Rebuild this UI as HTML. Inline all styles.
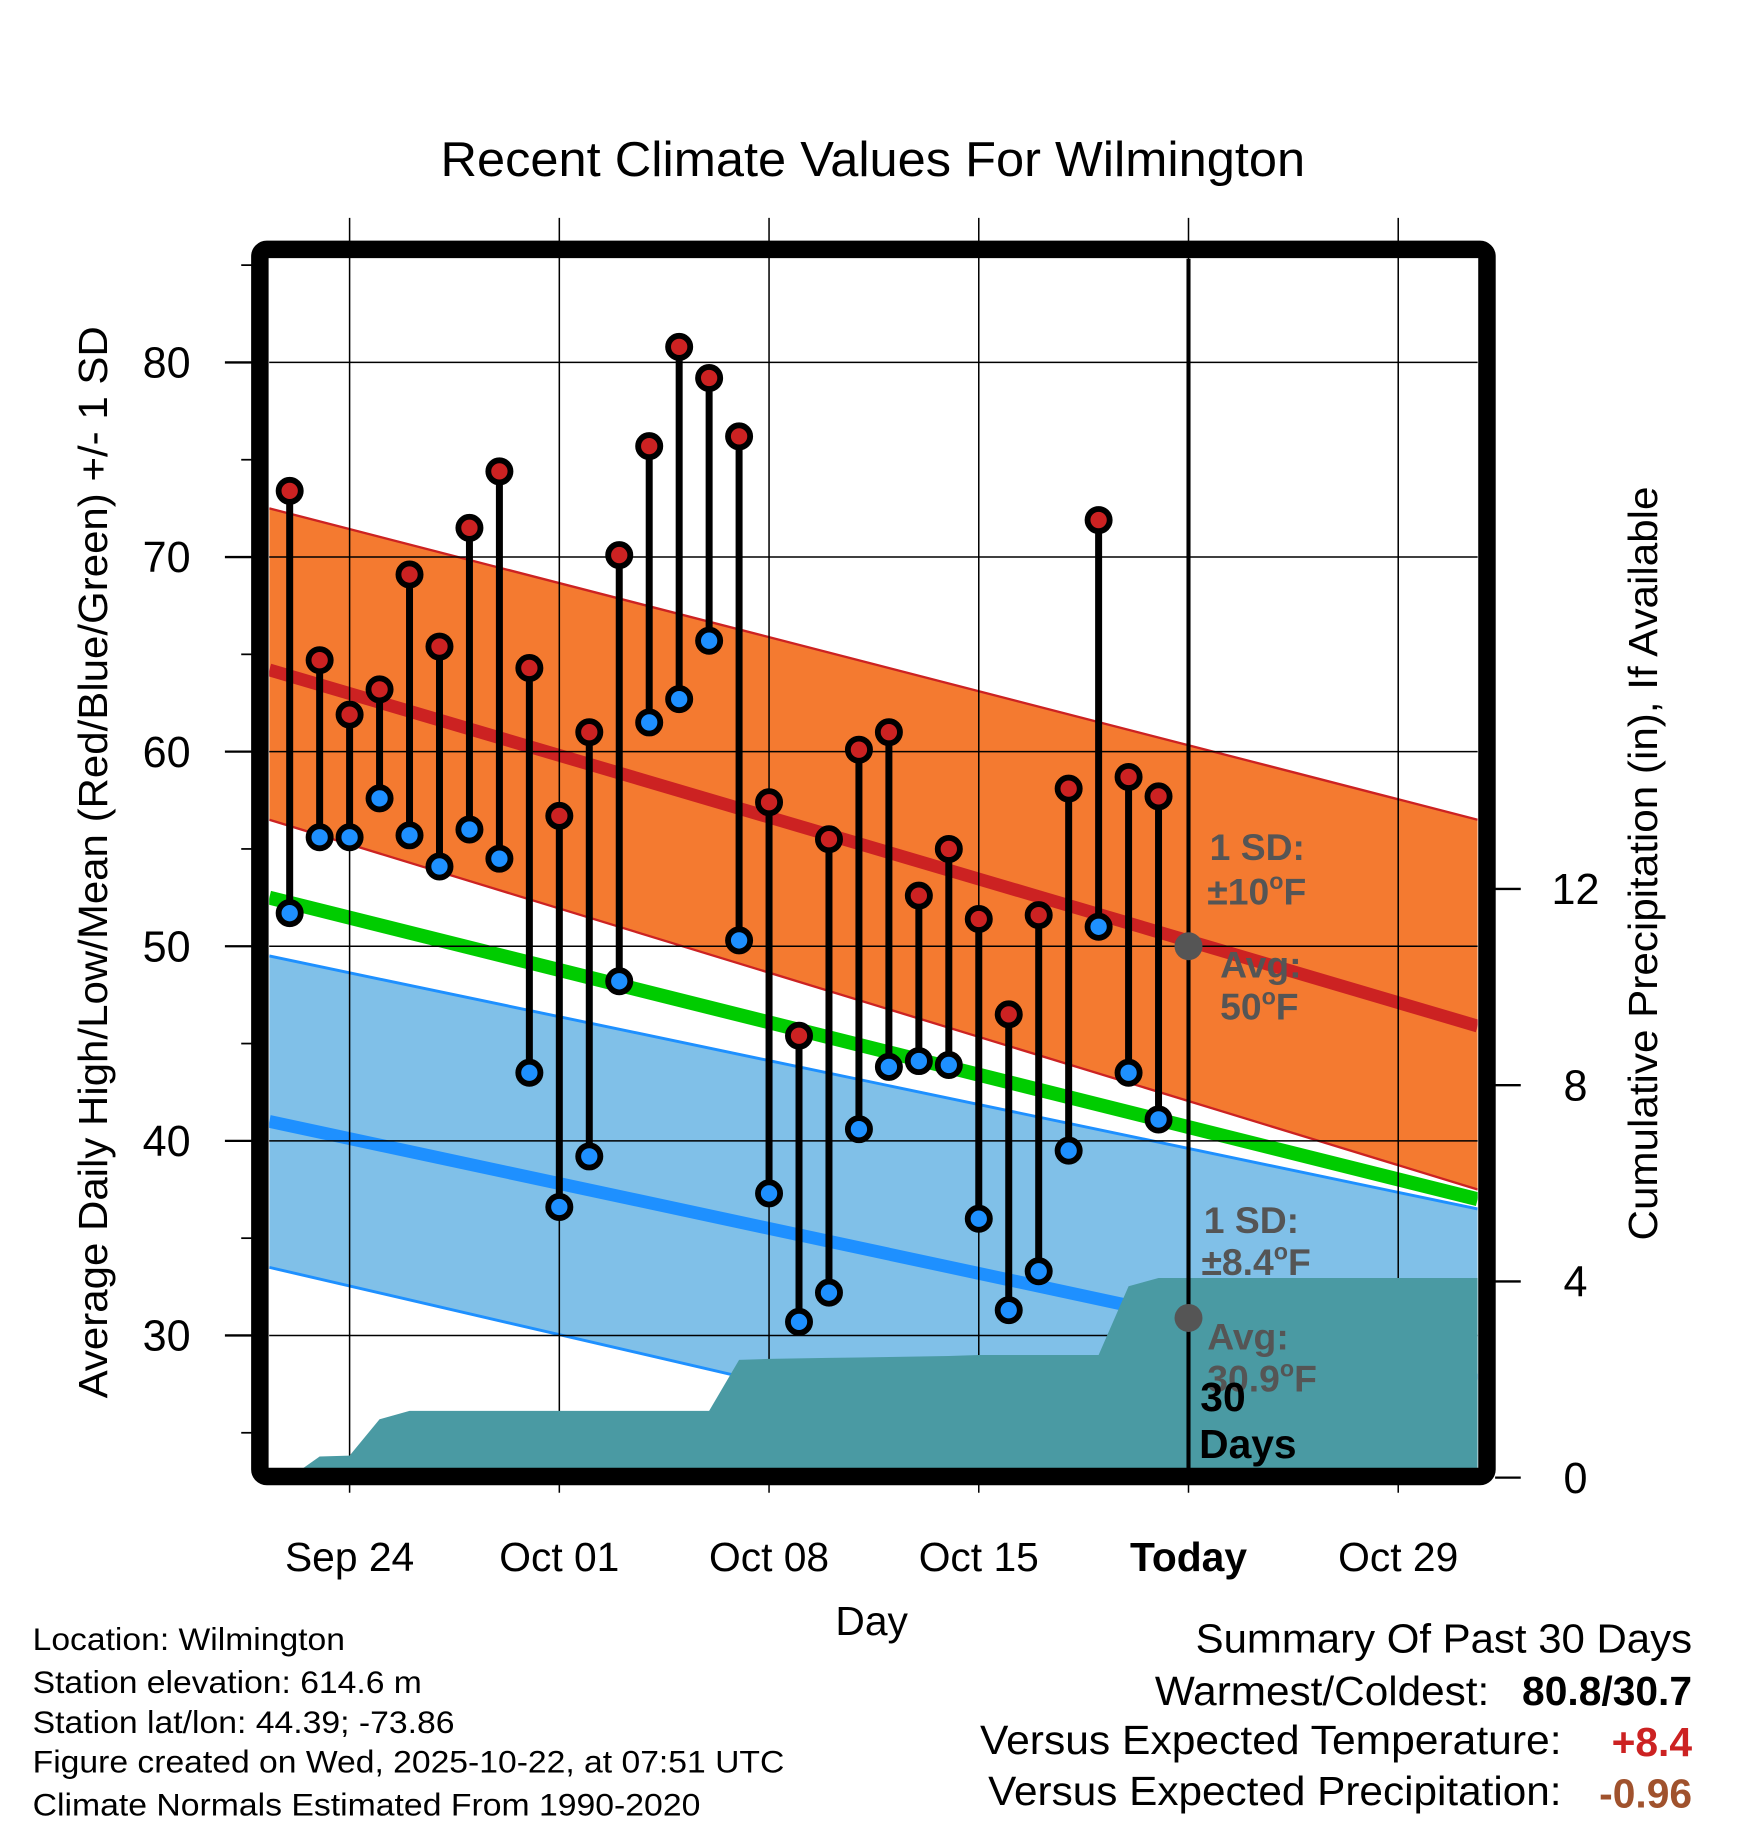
<!DOCTYPE html>
<html><head><meta charset="utf-8"><style>html,body{margin:0;padding:0;background:#fff}svg{display:block}text{font-family:"Liberation Sans",sans-serif}</style></head>
<body>
<svg id="chart" width="1748" height="1828" viewBox="0 0 1500 1568.65" xmlns="http://www.w3.org/2000/svg">
<defs><clipPath id="plotclip"><rect x="231" y="222" width="1037" height="1038"/></clipPath></defs>
<g id="bg" clip-path="url(#plotclip)"></g>
<g id="grid"></g>
<g id="precip" clip-path="url(#plotclip)"></g>
<g id="marks"></g>
<g id="annot"></g>
<rect x="223" y="214" width="1053" height="1053" rx="6" fill="none" stroke="#000" stroke-width="15"/>
<g id="axes"></g>
<text x="749" y="151" font-size="42" text-anchor="middle" textLength="742" lengthAdjust="spacingAndGlyphs">Recent Climate Values For Wilmington</text>
<text x="748" y="1403" font-size="35" text-anchor="middle">Day</text>
<text transform="translate(92,740) rotate(-90)" font-size="35" text-anchor="middle" textLength="920" lengthAdjust="spacingAndGlyphs">Average Daily High/Low/Mean (Red/Blue/Green) +/- 1 SD</text>
<text transform="translate(1422,741) rotate(-90)" font-size="35" text-anchor="middle" textLength="647" lengthAdjust="spacingAndGlyphs">Cumulative Precipitation (in), If Available</text>
<g font-size="27">
<text x="28" y="1416" textLength="268" lengthAdjust="spacingAndGlyphs">Location: Wilmington</text>
<text x="28" y="1453" textLength="334" lengthAdjust="spacingAndGlyphs">Station elevation: 614.6 m</text>
<text x="28" y="1487" textLength="362" lengthAdjust="spacingAndGlyphs">Station lat/lon: 44.39; -73.86</text>
<text x="28" y="1521" textLength="645" lengthAdjust="spacingAndGlyphs">Figure created on Wed, 2025-10-22, at 07:51 UTC</text>
<text x="28" y="1558" textLength="573" lengthAdjust="spacingAndGlyphs">Climate Normals Estimated From 1990-2020</text>
</g>
<g font-size="35">
<text x="1026" y="1418" textLength="426" lengthAdjust="spacingAndGlyphs">Summary Of Past 30 Days</text>
<text x="991" y="1463" textLength="287" lengthAdjust="spacingAndGlyphs">Warmest/Coldest:</text>
<text x="1452" y="1463" text-anchor="end" font-weight="bold">80.8/30.7</text>
<text x="841" y="1505" textLength="499" lengthAdjust="spacingAndGlyphs">Versus Expected Temperature:</text>
<text x="1452" y="1507" text-anchor="end" font-weight="bold" fill="#cc2222">+8.4</text>
<text x="848" y="1549" textLength="492" lengthAdjust="spacingAndGlyphs">Versus Expected Precipitation:</text>
<text x="1452" y="1551" text-anchor="end" font-weight="bold" fill="#a0522d">-0.96</text>
</g>
</svg>
<script>
// Data (day index 0 = Sep 22)
const highs = [73.4,64.7,61.9,63.2,69.1,65.4,71.5,74.4,64.3,56.7,61.0,70.1,75.7,80.8,79.2,76.2,57.4,45.4,55.5,60.1,61.0,52.6,55.0,51.4,46.5,51.6,58.1,71.9,58.7,57.7];
const lows  = [51.7,55.6,55.6,57.6,55.7,54.1,56.0,54.5,43.5,36.6,39.2,48.2,61.5,62.7,65.7,50.3,37.3,30.7,32.2,40.6,43.8,44.1,43.9,36.0,31.3,33.3,39.5,51.0,43.5,41.1];
const precipCum = [0,0.43,0.45,1.19,1.36,1.36,1.36,1.36,1.36,1.36,1.36,1.36,1.36,1.36,1.36,2.4,2.42,2.43,2.44,2.45,2.46,2.47,2.48,2.5,2.5,2.5,2.5,2.5,3.9,4.07];
const normalDays = [-0.68, 39.65];
const normHighUpper = [72.5,56.5];
const normHigh = [64.2,45.9];
const normHighLower = [56.5,37.5];
const normMean = [52.5,37.0];
const normLowUpper = [49.5,36.5];
const normLow = [41.0,27.7];
const normLowLower = [33.5,19.1];
const xTickDays = [2,9,16,23,30,37];
const xTickLabels = ["Sep 24","Oct 01","Oct 08","Oct 15","Today","Oct 29"];
const yTicks = [30,40,50,60,70,80];
const yMinor = [25,35,45,55,65,75,85];
const pTicks = [0,4,8,12];
const todayDay = 30;
const todayHighAvg = 50.0;
const todayLowAvg = 30.9;

const NS="http://www.w3.org/2000/svg";
function xD(d){return 300+(d-2)*25.71;}
function yT(v){return 812-(v-50)*16.7;}
function yP(p){return 1268-p*42.1;}
function mk(tag,attrs,parent){const e=document.createElementNS(NS,tag);for(const k in attrs)e.setAttribute(k,attrs[k]);parent.appendChild(e);return e;}
const bg=document.getElementById('bg'),grid=document.getElementById('grid'),pr=document.getElementById('precip'),marks=document.getElementById('marks'),ax=document.getElementById('axes'),an=document.getElementById('annot');
function band(up,lo,fill,name){
  const pts=[xD(normalDays[0])+','+yT(up[0]),xD(normalDays[1])+','+yT(up[1]),xD(normalDays[1])+','+yT(lo[1]),xD(normalDays[0])+','+yT(lo[0])].join(' ');
  const p=mk('polygon',{points:pts,fill:fill},bg);
  
  
}
function line(arr,color,w,name){
  const l=mk('line',{x1:xD(normalDays[0]),y1:yT(arr[0]),x2:xD(normalDays[1]),y2:yT(arr[1]),stroke:color,'stroke-width':w},bg);
  
  
}
band(normHighUpper,normHighLower,'#f47a30','high-sd-band');
band(normLowUpper,normLowLower,'#80c0e8','low-sd-band');
line(normHighUpper,'#cc2222',2,'high-upper-edge');
line(normHighLower,'#cc2222',2,'high-lower-edge');
line(normLowUpper,'#1e90ff',2.5,'low-upper-edge');
line(normLowLower,'#1e90ff',2.5,'low-lower-edge');
line(normHigh,'#cc2222',11,'normal-high-line');
line(normLow,'#1e90ff',11,'normal-low-line');
line(normMean,'#00cc00',12,'normal-mean-line');
yTicks.forEach(v=>{const g=mk('line',{x1:231,x2:1268,y1:yT(v),y2:yT(v),stroke:'#000','stroke-width':1.3},grid);

});
xTickDays.forEach(d=>{const g=mk('line',{x1:xD(d),x2:xD(d),y1:187,y2:1281,stroke:'#000','stroke-width':1.3},grid);

});
const h=mk('circle',{cx:xD(todayDay),cy:yT(todayHighAvg),r:12,fill:'#555'},an);


const lw=mk('circle',{cx:xD(todayDay),cy:yT(todayLowAvg),r:12,fill:'#555'},an);


let pts=[xD(0)+','+yP(0)];
precipCum.forEach((p,i)=>pts.push(xD(i)+','+yP(p)));
pts.push('1268,'+yP(precipCum[precipCum.length-1]));pts.push('1268,1268');pts.push(xD(0)+',1268');
const pa=mk('polygon',{points:pts.join(' '),fill:'#4a9aa3'},pr);


const tl=mk('line',{x1:xD(todayDay),x2:xD(todayDay),y1:222,y2:1260,stroke:'#000','stroke-width':3.5},marks);


highs.forEach((hv,i)=>{
  const b=mk('line',{x1:xD(i),x2:xD(i),y1:yT(hv),y2:yT(lows[i]),stroke:'#000','stroke-width':6},marks);
  
  
});
highs.forEach((hv,i)=>{
  const c1=mk('circle',{cx:xD(i),cy:yT(hv),r:9.5,fill:'#cc2222',stroke:'#000','stroke-width':5},marks);
  
  
  const c2=mk('circle',{cx:xD(i),cy:yT(lows[i]),r:9.5,fill:'#1e90ff',stroke:'#000','stroke-width':5},marks);
  
  
});
function tx(x,y,s,name,fill,size){const t=mk('text',{x:x,y:y,'font-size':size||32,'font-weight':'bold',fill:fill||'#555'},an);t.innerHTML=s;

}
const dg='<tspan dy="-13" font-size="20">o</tspan><tspan dy="13">F</tspan>';
tx(1038,738,'1 SD:','high-sd-label');
tx(1036,776,'±10'+dg,'high-sd-value');
tx(1047,839,'Avg:','high-avg-label');
tx(1047,875,'50'+dg,'high-avg-value');
tx(1033,1058,'1 SD:','low-sd-label');
tx(1031,1094,'±8.4'+dg,'low-sd-value');
tx(1036,1158,'Avg:','low-avg-label');
tx(1036,1194,'30.9'+dg,'low-avg-value');
tx(1030,1211,'30','days-count','#000',35);
tx(1029,1251,'Days','days-label','#000',35);
yTicks.forEach(v=>{
  mk('line',{x1:193,x2:216,y1:yT(v),y2:yT(v),stroke:'#000','stroke-width':2},ax);
  const t=mk('text',{x:143,y:yT(v)+13,'font-size':37,'text-anchor':'middle'},ax);t.textContent=v;
  
  
});
yMinor.forEach(v=>{mk('line',{x1:207,x2:216,y1:yT(v),y2:yT(v),stroke:'#000','stroke-width':1.5},ax);});
pTicks.forEach(p=>{
  mk('line',{x1:1283,x2:1305,y1:yP(p),y2:yP(p),stroke:'#000','stroke-width':2},ax);
  const t=mk('text',{x:1352,y:yP(p)+13,'font-size':37,'text-anchor':'middle'},ax);t.textContent=p;
  
  
});
xTickDays.forEach((d,i)=>{
  const t=mk('text',{x:xD(d),y:1348,'font-size':35,'text-anchor':'middle'},ax);t.textContent=xTickLabels[i];
  if(xTickLabels[i]==='Today')t.setAttribute('font-weight','bold');
  
  
});
</script>
</body></html>
